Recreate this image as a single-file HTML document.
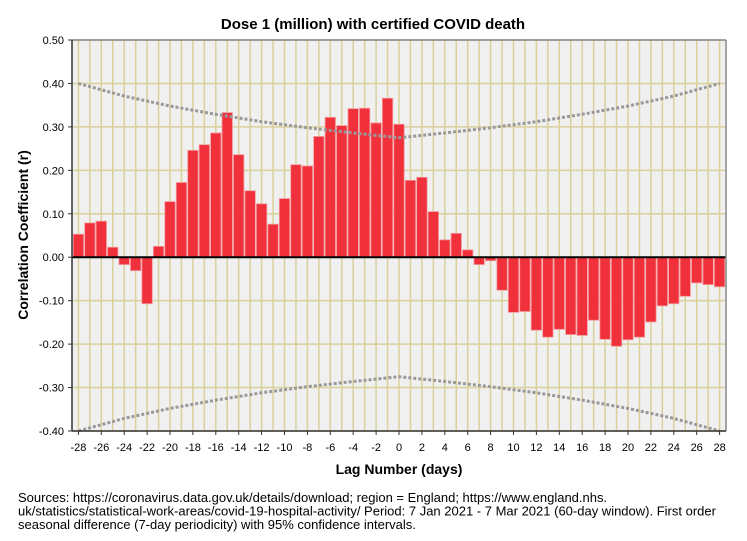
<!DOCTYPE html>
<html><head><meta charset="utf-8"><style>
body{margin:0;background:#fff;font-family:"Liberation Sans",sans-serif}
svg{display:block}
</style></head><body>
<svg id="c" width="747" height="541" font-family="Liberation Sans, sans-serif"></svg>
<script>
const lags=[];for(let k=-28;k<=28;k++)lags.push(k);
const values=[0.053,0.079,0.083,0.023,-0.017,-0.031,-0.107,0.025,0.128,0.172,0.246,0.259,0.286,0.333,0.236,0.153,0.123,0.076,0.135,0.213,0.210,0.278,0.322,0.303,0.342,0.343,0.309,0.366,0.306,0.177,0.184,0.105,0.040,0.055,0.017,-0.017,-0.008,-0.076,-0.127,-0.125,-0.168,-0.184,-0.166,-0.178,-0.180,-0.145,-0.189,-0.205,-0.190,-0.184,-0.149,-0.112,-0.107,-0.090,-0.059,-0.063,-0.068];
const bandLags=[-28,-24,-20,-16,-12,-8,-4,0,4,8,12,16,20,24,28];
const bandUpper=[0.400,0.371,0.348,0.329,0.312,0.298,0.286,0.275,0.286,0.298,0.312,0.329,0.348,0.371,0.400];
const yTicks=[0.5,0.4,0.3,0.2,0.1,0,-0.1,-0.2,-0.3,-0.4];
const xTickLabels=[-28,-26,-24,-22,-20,-18,-16,-14,-12,-10,-8,-6,-4,-2,0,2,4,6,8,10,12,14,16,18,20,22,24,26,28];
const L=72,R=726,T=40,B=431;
const x=k=>399+k*11.45;
const y=v=>T+(0.5-v)*(B-T)/0.9;
const svg=document.getElementById('c');const NS='http://www.w3.org/2000/svg';
function mk(t,a,p){const e=document.createElementNS(NS,t);for(const k in a)e.setAttribute(k,a[k]);(p||svg).appendChild(e);return e;}
let e=mk('rect',{x:L,y:T,width:R-L,height:B-T,fill:'#f0f0f0'});


lags.forEach(k=>{const g=mk('line',{x1:x(k),x2:x(k),y1:T,y2:B,stroke:'#d9d09c','stroke-width':1.5});

});
yTicks.forEach(v=>{const g=mk('line',{x1:L,x2:R,y1:y(v),y2:y(v),stroke:'#d9d09c','stroke-width':1.5});


const t=mk('text',{x:64,y:y(v)+4,'text-anchor':'end','font-size':11,fill:'#000'});t.textContent=v.toFixed(2);


mk('line',{x1:L-4,x2:L,y1:y(v),y2:y(v),stroke:'#333'});});
lags.forEach((k,i)=>{const v=values[i];const b=mk('rect',{x:x(k)-5.2,y:Math.min(y(v),y(0)),width:10.4,height:Math.abs(y(v)-y(0)),fill:'#f0313b',stroke:'#f59a9e','stroke-width':0.8});

});
const up=bandLags.map((k,i)=>x(k)+','+y(bandUpper[i])).join(' ');
const lo=bandLags.map((k,i)=>x(k)+','+y(-bandUpper[i])).join(' ');
e=mk('polyline',{points:up,fill:'none',stroke:'#999','stroke-width':3,'stroke-dasharray':'3,2'});


e=mk('polyline',{points:lo,fill:'none',stroke:'#999','stroke-width':3,'stroke-dasharray':'3,2'});


e=mk('line',{x1:L,x2:R,y1:y(0),y2:y(0),stroke:'#000','stroke-width':2});


mk('line',{x1:L,x2:R,y1:T,y2:T,stroke:'#888','stroke-width':1.5});
mk('line',{x1:R,x2:R,y1:T,y2:B,stroke:'#888','stroke-width':1.5});
e=mk('line',{x1:L,x2:L,y1:T,y2:B,stroke:'#333','stroke-width':1.5});


e=mk('line',{x1:L,x2:R,y1:B,y2:B,stroke:'#333','stroke-width':1.5});


xTickLabels.forEach(k=>{mk('line',{x1:x(k),x2:x(k),y1:B,y2:B+4,stroke:'#333'});
const t=mk('text',{x:x(k),y:451,'text-anchor':'middle','font-size':11,fill:'#000'});t.textContent=k;

});
e=mk('text',{x:373,y:29,'text-anchor':'middle','font-size':15,'font-weight':'bold'});e.textContent='Dose 1 (million) with certified COVID death';


e=mk('text',{x:399,y:474,'text-anchor':'middle','font-size':14,'font-weight':'bold'});e.textContent='Lag Number (days)';


e=mk('text',{x:28,y:235,'text-anchor':'middle','font-size':14,'font-weight':'bold',transform:'rotate(-90 28 235)'});e.textContent='Correlation Coefficient (r)';


const foot=['Sources: https://coronavirus.data.gov.uk/details/download; region = England; https://www.england.nhs.','uk/statistics/statistical-work-areas/covid-19-hospital-activity/ Period: 7 Jan 2021 - 7 Mar 2021 (60-day window). First order','seasonal difference (7-day periodicity) with 95% confidence intervals.'];
foot.forEach((s,i)=>{const t=mk('text',{x:18,y:502+i*13.5,'font-size':13});t.textContent=s;

});
</script>
</body></html>
